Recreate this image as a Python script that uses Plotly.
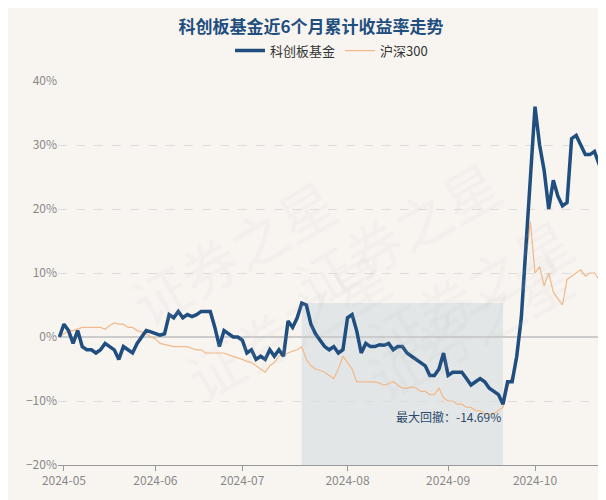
import pandas as pd
import plotly.graph_objects as go

hol = pd.to_datetime(["2024-05-01","2024-05-02","2024-05-03","2024-06-10","2024-09-16","2024-09-17",
                      "2024-10-01","2024-10-02","2024-10-03","2024-10-04","2024-10-07"])
dates = [d for d in pd.bdate_range("2024-04-30", "2024-10-29") if d not in hol]
dates = [d.strftime("%Y-%m-%d") for d in dates]

fund = [0,2,1,-1,1,-1.5,-2,-2,-2.5,-2,-1,-1.5,-2,-3.5,-1.5,-2,-2.5,-1,0,1,
        0.8,0.5,0.3,0.5,3.5,3,4,3,3.5,3.2,3.5,4,4,4,1.5,-1.5,1,0.5,0,0,
        -0.5,-2.5,-2,-3.5,-3,-3.5,-2,-3,-2,-3,2.5,1.5,3,5.3,5,2,0.5,-0.5,-1.5,-2,
        -1.5,-2.5,-2,3,3.5,1,-2.5,-1,-1.5,-1.5,-1.2,-1.3,-1,-2,-1.5,-1.5,-2.5,-3,-3.5,-4,
        -4.5,-6,-6,-5,-2.5,-6,-5.5,-5.5,-5.5,-6.5,-7.5,-7,-6.5,-7,-8,-8.5,-9,-10.5,-7,-7,
        -3,3,15,25,36,30,26,20,24.5,22,20.5,21,31,31.5,30,28.5,28.5,29,27,26]
hs300 = [0,0.5,1,1,1.2,1.5,1.5,1.5,1.5,1.5,1.2,1.8,2.2,2,2,1.5,1.5,1,0.8,0.5,
         0,-0.3,-1,-1.2,-1.3,-1.5,-1.5,-1.5,-1.5,-1.8,-2,-2,-2.5,-2.5,-2.5,-2.5,-2.5,-2.8,-3,-3.2,
         -3.5,-3.8,-4,-4.5,-5,-5.5,-4.5,-4,-3,-2.8,-2.5,-2.2,-2,-1.5,-3.5,-4.5,-5,-5.2,-5.5,-6,
         -6.5,-5,-3,-4,-5,-7,-7,-7,-7,-7,-7.2,-7.5,-7.3,-7,-7.5,-8,-8,-7.8,-8,-8.5,
         -8.5,-9,-9,-8,-9.5,-10,-10,-10.5,-10.5,-11,-11,-11.5,-11.5,-12,-12,-12,-11.5,-11,-8,-6,
         -4,2,12,18,10,11,8,10,7,6,5,9,9.5,10,10.5,9.5,10,10,9,8]

tickvals = ["2024-05-06","2024-06-03","2024-07-01","2024-08-01","2024-09-02","2024-10-08"]
ticktext = [t[:7] for t in tickvals]

fig = go.Figure()
fig.add_trace(go.Scatter(x=dates, y=hs300, name="沪深300", mode="lines",
                         line=dict(color="#f2b98a", width=1.2)))
fig.add_trace(go.Scatter(x=dates, y=fund, name="科创板基金", mode="lines",
                         line=dict(color="#1f4e7f", width=3.5)))
i_pk = 53; i_min = 97
fig.add_shape(type="rect", xref="x", yref="y", x0=dates[i_pk], x1=dates[i_min], y0=-20, y1=fund[i_pk],
              fillcolor="rgba(180,195,205,0.3)", line_width=0, layer="below")
fig.add_annotation(x=dates[i_min], y=fund[i_min], text="最大回撤：-14.69%", showarrow=False,
                   xanchor="right", yanchor="top", yshift=-2, font=dict(size=12, color="#2b4a6b"))
for (x, y) in [(0.1, 0.8), (0.62, 0.85), (0.2, 0.12), (0.97, 0.12), (0.97, 0.7)]:
    fig.add_annotation(xref="paper", yref="paper", x=x, y=y, text="证券之星", showarrow=False,
                       textangle=-30, font=dict(size=56, color="rgba(190,190,190,0.09)"))
fig.update_layout(
    width=606, height=500, paper_bgcolor="#f8f5f1", plot_bgcolor="#f8f5f1",
    margin=dict(l=50, r=9, t=73, b=43, autoexpand=False),
    title=dict(text="<b>科创板基金近6个月累计收益率走势</b>", x=0.5, y=0.962, yref="container",
               xanchor="center", yanchor="middle", font=dict(size=17, color="#1f4e7f")),
    legend=dict(orientation="h", x=0.5, xanchor="center", y=1.04, yanchor="bottom",
                traceorder="reversed", font=dict(size=13, color="#333"), bgcolor="rgba(0,0,0,0)"),
    font=dict(family="Noto Sans CJK SC"),
    showlegend=True,
)
fig.update_xaxes(type="category", tickvals=tickvals, ticktext=ticktext, showgrid=False,
                 ticks="outside", ticklen=5, tickcolor="#999", showline=True, linecolor="#999",
                 tickfont=dict(size=12, color="#888"), range=[-0.3, len(dates)-0.7])
fig.update_yaxes(range=[-20, 40], dtick=10, ticksuffix="%", gridcolor="#ddd", griddash="dash",
                 zeroline=True, zerolinecolor="#ccc", zerolinewidth=2,
                 tickfont=dict(size=12, color="#888"))
fig.write_html("out.html")
